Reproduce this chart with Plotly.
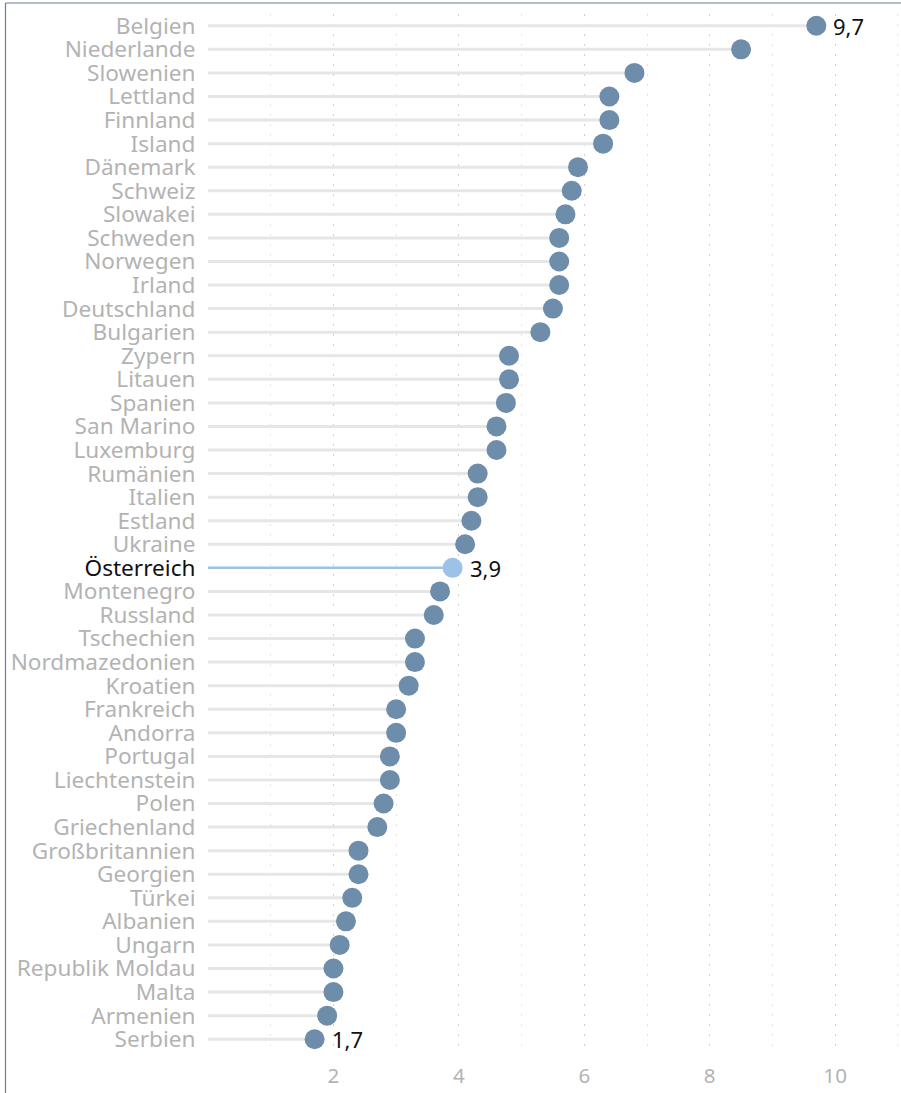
import plotly.graph_objects as go

countries = ["Belgien", "Niederlande", "Slowenien", "Lettland", "Finnland", "Island",
             "Dänemark", "Schweiz", "Slowakei", "Schweden", "Norwegen", "Irland",
             "Deutschland", "Bulgarien", "Zypern", "Litauen", "Spanien", "San Marino",
             "Luxemburg", "Rumänien", "Italien", "Estland", "Ukraine", "Österreich",
             "Montenegro", "Russland", "Tschechien", "Nordmazedonien", "Kroatien",
             "Frankreich", "Andorra", "Portugal", "Liechtenstein", "Polen",
             "Griechenland", "Großbritannien", "Georgien", "Türkei", "Albanien",
             "Ungarn", "Republik Moldau", "Malta", "Armenien", "Serbien"]
values = [9.7, 8.5, 6.8, 6.4, 6.4, 6.3,
          5.9, 5.8, 5.7, 5.6, 5.6, 5.6,
          5.5, 5.3, 4.8, 4.8, 4.75, 4.6,
          4.6, 4.3, 4.3, 4.2, 4.1, 3.9,
          3.7, 3.6, 3.3, 3.3, 3.2,
          3.0, 3.0, 2.9, 2.9, 2.8,
          2.7, 2.4, 2.4, 2.3, 2.2,
          2.1, 2.0, 2.0, 1.9, 1.7]
highlight = "Österreich"
labelled = ["Belgien", "Österreich", "Serbien"]
x_ticks = [2, 4, 6, 8, 10]

FONT = "Noto Sans"
FS = 22.6
GREY_TXT = "#b3b3b3"
STEM = "#e6e6e6"
DOT = "#6e8dab"
HL = "#9cc2e8"

fig = go.Figure()

# stems
sx, sy = [], []
for c, v in zip(countries, values):
    if c == highlight:
        continue
    sx += [0, v, None]
    sy += [c, c, None]
fig.add_trace(go.Scatter(x=sx, y=sy, mode="lines",
                         line=dict(color=STEM, width=3), hoverinfo="skip",
                         showlegend=False))
hv = values[countries.index(highlight)]
fig.add_trace(go.Scatter(x=[0, hv], y=[highlight, highlight], mode="lines",
                         line=dict(color=HL, width=2.5), hoverinfo="skip",
                         showlegend=False))

# dots
fig.add_trace(go.Scatter(x=values, y=countries, mode="markers",
                         marker=dict(size=20, color=[HL if c == highlight else DOT for c in countries],
                                     line=dict(width=0)),
                         showlegend=False))

for c in labelled:
    v = values[countries.index(c)]
    fig.add_annotation(x=v, y=c, text=f"{v:.1f}".replace(".", ","), showarrow=False,
                       xanchor="left", yanchor="middle", xshift=15,
                       font=dict(family=FONT, size=FS - 0.6, color="#111111"))

ticktext = [f'<span style="color:#111111">{c}</span>' if c == highlight else c for c in countries]

fig.update_layout(
    width=901, height=1093,
    margin=dict(l=208, r=0, t=14, b=42),
    paper_bgcolor="white", plot_bgcolor="white",
    font=dict(family=FONT, size=FS, color=GREY_TXT),
    xaxis=dict(range=[0, 11.05], tickvals=x_ticks, ticktext=[str(t) for t in x_ticks],
               showgrid=True, gridcolor="#d0d0d0", griddash="2px,8px", gridwidth=1,
               zeroline=False, showline=False, ticks="outside", ticklen=6,
               tickcolor="rgba(0,0,0,0)",
               tickfont=dict(family=FONT, size=FS - 2, color=GREY_TXT),
               minor=dict(dtick=1, tick0=0, showgrid=True, gridcolor="#e3e3e3",
                          griddash="2px,8px", gridwidth=1)),
    yaxis=dict(type="category", categoryorder="array", categoryarray=countries,
               range=[len(countries) - 0.5, -0.5],
               tickvals=countries, ticktext=ticktext,
               showgrid=False, zeroline=False, showline=False,
               ticks="outside", ticklen=7, tickcolor="rgba(0,0,0,0)",
               tickfont=dict(family=FONT, size=FS, color=GREY_TXT)),
)

# frame lines (left and top)
fig.add_shape(type="line", xref="paper", yref="paper",
              x0=-0.2922, x1=-0.2922, y0=1.0106, y1=-0.1,
              line=dict(color="#6b7d9c", width=1.2))
fig.add_shape(type="line", xref="paper", yref="paper",
              x0=-0.2922, x1=1.05, y0=1.0106, y1=1.0106,
              line=dict(color="#6b7d9c", width=1.2))

fig.write_html("out.html", config={"displayModeBar": False},
               post_script="document.body.style.margin='0';")
